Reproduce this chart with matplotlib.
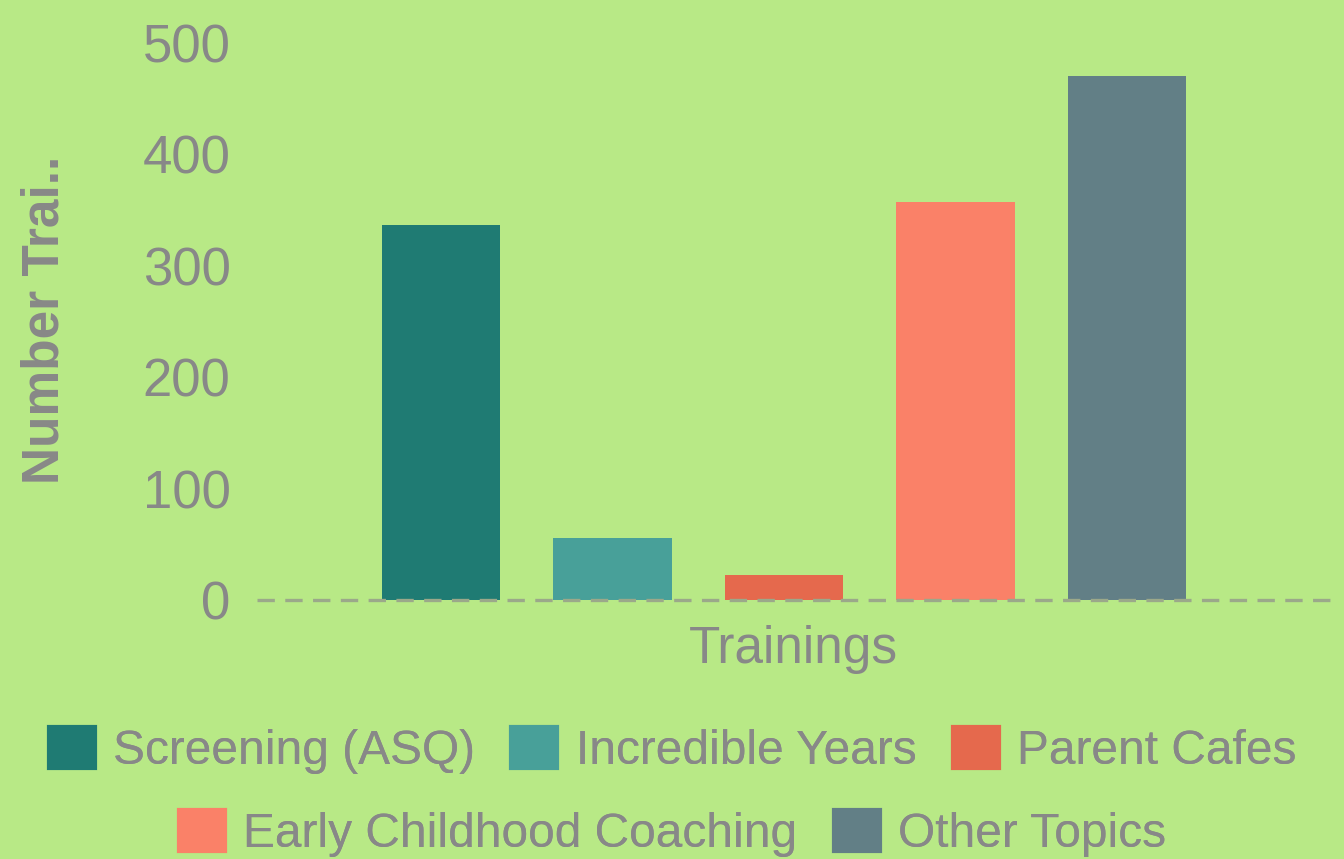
import matplotlib.pyplot as plt
from matplotlib.patches import Patch

plt.rcParams['font.family'] = ['Liberation Sans', 'DejaVu Sans']
plt.rcParams['lines.scale_dashes'] = False

# Data
trainings = ["Screening (ASQ)", "Incredible Years", "Parent Cafes",
             "Early Childhood Coaching", "Other Topics"]
counts = [337, 56, 22, 357, 470]
colors = ["#1f7b73", "#48a099", "#e5694d", "#fa8168", "#627f86"]
yticks = [0, 100, 200, 300, 400, 500]

bg = "#b8e986"
text_color = "#888888"

fig = plt.figure(figsize=(13.44, 8.59), dpi=100, facecolor=bg)
ax = fig.add_axes([257 / 1344, 1 - 600 / 859, (1330 - 257) / 1344, (600 - 43) / 859])
ax.set_facecolor(bg)

x = list(range(len(trainings)))
ax.bar(x, counts, width=0.69, color=colors)

ax.set_xlim(-1.073, 5.184)
ax.set_ylim(0, 500)
ax.set_yticks(yticks)
ax.set_yticklabels([str(t) for t in yticks], fontsize=38, color=text_color)
ax.tick_params(axis='y', length=0, pad=19)
ax.set_xticks([])
for s in ax.spines.values():
    s.set_visible(False)

# dashed zero line
ax.axhline(0, color="#9ba88a", linewidth=2.4, linestyle=(0, (12.5, 7.5)), clip_on=False)

fig.text(45 / 1344, 1 - 320 / 859, "Number Trai..", rotation=90, fontsize=37,
         fontweight='bold', color=text_color, ha='center', va='center')
fig.text(793 / 1344, 1 - 650 / 859, "Trainings", fontsize=37, color=text_color,
         ha='center', va='center')

# Legend in two centered rows
handles = [Patch(facecolor=c, edgecolor=c, linewidth=1.5, joinstyle='round') for c in colors]
rows = [(0, 3, 750), (3, 5, 833)]
for start, end, ypx in rows:
    leg = fig.legend(handles[start:end], trainings[start:end], ncol=end - start,
                     loc='center', bbox_to_anchor=(0.5, 1 - ypx / 859),
                     frameon=False, fontsize=34.5, handlelength=1.0, handleheight=1.0,
                     handletextpad=0.36, columnspacing=0.74, borderpad=0,
                     labelcolor=text_color)
    fig.add_artist(leg)

fig.savefig("out.png", dpi=100, facecolor=bg)
